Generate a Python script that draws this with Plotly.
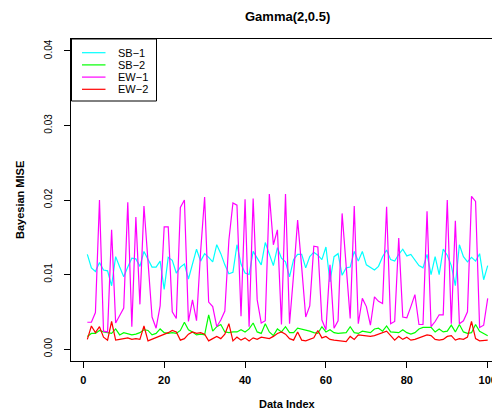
import plotly.graph_objects as go

idx = list(range(1, 101))

sb1 = [0.0127, 0.0109, 0.0104, 0.0116, 0.0106, 0.0105, 0.0085, 0.0124, 0.0110, 0.0097,
       0.0110, 0.0122, 0.0121, 0.0111, 0.0131, 0.0120, 0.0110, 0.0110, 0.0118, 0.0080,
       0.0123, 0.0119, 0.0102, 0.0110, 0.0114, 0.0094, 0.0114, 0.0134, 0.0118, 0.0128,
       0.0123, 0.0117, 0.0140, 0.0128, 0.0113, 0.0101, 0.0103, 0.0140, 0.0114, 0.0102,
       0.0100, 0.0131, 0.0122, 0.0113, 0.0143, 0.0126, 0.0112, 0.0136, 0.0122, 0.0117,
       0.0097, 0.0120, 0.0127, 0.0127, 0.0109, 0.0124, 0.0130, 0.0126, 0.0120, 0.0137,
       0.0090, 0.0124, 0.0128, 0.0099, 0.0109, 0.0110, 0.0131, 0.0118, 0.0131, 0.0113,
       0.0110, 0.0106, 0.0111, 0.0124, 0.0133, 0.0120, 0.0118, 0.0127, 0.0134, 0.0125,
       0.0127, 0.0120, 0.0112, 0.0109, 0.0127, 0.0100, 0.0124, 0.0100, 0.0134, 0.0126,
       0.0112, 0.0085, 0.0140, 0.0124, 0.0117, 0.0123, 0.0118, 0.0128, 0.0093, 0.0112]

sb2 = [0.0017, 0.0021, 0.0021, 0.0025, 0.0023, 0.0022, 0.0021, 0.0027, 0.0019, 0.0022,
       0.0021, 0.0019, 0.0020, 0.0022, 0.0026, 0.0025, 0.0019, 0.0021, 0.0027, 0.0022,
       0.0021, 0.0022, 0.0021, 0.0025, 0.0036, 0.0026, 0.0023, 0.0019, 0.0020, 0.0019,
       0.0046, 0.0024, 0.0030, 0.0033, 0.0023, 0.0022, 0.0023, 0.0023, 0.0026, 0.0023,
       0.0027, 0.0035, 0.0023, 0.0021, 0.0034, 0.0023, 0.0018, 0.0027, 0.0023, 0.0030,
       0.0022, 0.0022, 0.0028, 0.0027, 0.0025, 0.0024, 0.0022, 0.0021, 0.0030, 0.0023,
       0.0026, 0.0022, 0.0021, 0.0022, 0.0022, 0.0030, 0.0022, 0.0021, 0.0024, 0.0023,
       0.0022, 0.0027, 0.0028, 0.0024, 0.0031, 0.0023, 0.0022, 0.0022, 0.0026, 0.0022,
       0.0020, 0.0022, 0.0027, 0.0029, 0.0029, 0.0029, 0.0023, 0.0027, 0.0023, 0.0024,
       0.0032, 0.0023, 0.0033, 0.0023, 0.0021, 0.0022, 0.0033, 0.0024, 0.0021, 0.0018]

ew1 = [0.0036, 0.0036, 0.0049, 0.0200, 0.0024, 0.0023, 0.0160, 0.0035, 0.0045, 0.0055,
       0.0197, 0.0030, 0.0177, 0.0060, 0.0192, 0.0115, 0.0043, 0.0028, 0.0058, 0.0164,
       0.0164, 0.0050, 0.0041, 0.0190, 0.0200, 0.0037, 0.0066, 0.0038, 0.0130, 0.0204,
       0.0063, 0.0057, 0.0030, 0.0039, 0.0051, 0.0146, 0.0196, 0.0193, 0.0044, 0.0201,
       0.0030, 0.0202, 0.0066, 0.0035, 0.0038, 0.0208, 0.0140, 0.0160, 0.0033, 0.0208,
       0.0034, 0.0100, 0.0173, 0.0110, 0.0043, 0.0058, 0.0138, 0.0137, 0.0039, 0.0026,
       0.0113, 0.0028, 0.0038, 0.0182, 0.0115, 0.0041, 0.0192, 0.0034, 0.0068, 0.0057,
       0.0032, 0.0070, 0.0064, 0.0061, 0.0191, 0.0034, 0.0037, 0.0149, 0.0043, 0.0042,
       0.0057, 0.0073, 0.0033, 0.0033, 0.0185, 0.0030, 0.0037, 0.0046, 0.0046, 0.0200,
       0.0034, 0.0172, 0.0034, 0.0038, 0.0050, 0.0205, 0.0198, 0.0029, 0.0032, 0.0068]

ew2 = [0.0013, 0.0031, 0.0022, 0.0030, 0.0016, 0.0012, 0.0037, 0.0012, 0.0013, 0.0014,
       0.0015, 0.0013, 0.0014, 0.0013, 0.0031, 0.0011, 0.0013, 0.0015, 0.0017, 0.0019,
       0.0022, 0.0025, 0.0023, 0.0012, 0.0014, 0.0020, 0.0023, 0.0021, 0.0022, 0.0020,
       0.0011, 0.0014, 0.0017, 0.0014, 0.0020, 0.0034, 0.0011, 0.0016, 0.0012, 0.0015,
       0.0011, 0.0015, 0.0013, 0.0016, 0.0015, 0.0014, 0.0017, 0.0021, 0.0023, 0.0020,
       0.0014, 0.0012, 0.0023, 0.0012, 0.0011, 0.0013, 0.0015, 0.0025, 0.0015, 0.0017,
       0.0013, 0.0012, 0.0011, 0.0010, 0.0010, 0.0017, 0.0013, 0.0019, 0.0018, 0.0018,
       0.0017, 0.0018, 0.0020, 0.0023, 0.0024, 0.0018, 0.0012, 0.0017, 0.0013, 0.0016,
       0.0012, 0.0013, 0.0015, 0.0018, 0.0019, 0.0018, 0.0013, 0.0012, 0.0013, 0.0017,
       0.0018, 0.0012, 0.0014, 0.0013, 0.0016, 0.0037, 0.0014, 0.0011, 0.0012, 0.0012]

series_names = ["SB\u22121", "SB\u22122", "EW\u22121", "EW\u22122"]
series_colors = ["#00FFFF", "#00FF00", "#FF00FF", "#FF0000"]
series_values = [sb1, sb2, ew1, ew2]

x_ticks = [0, 20, 40, 60, 80, 100]
y_ticks = [0.00, 0.01, 0.02, 0.03, 0.04]
y_tick_labels = ["0.00", "0.01", "0.02", "0.03", "0.04"]

# the page body has an 8px margin: the figure is drawn 8px in from the window corner
OFF = 8
W, H = 500 - OFF, 415 - OFF
ML, MR, MT, MB = 63, 0, 31, 54
pw, ph = W - ML - MR, H - MT - MB
X0_PX, X_PER = 83.3 - OFF, 4.044  # pixel of index 0 (figure coords), px per unit


def px(xp):
    """window x pixel -> paper x"""
    return (xp - OFF - ML) / pw


def py(yp):
    """window y pixel -> paper y"""
    return (H - MB - (yp - OFF)) / ph


fig = go.Figure()
for name, col, vals in zip(series_names, series_colors, series_values):
    fig.add_trace(go.Scatter(x=idx, y=vals, mode="lines", name=name,
                             line=dict(color=col, width=1.2), showlegend=False))

FONT = "Liberation Sans, Arial, Helvetica, sans-serif"

shapes = []
annotations = []
# legend box
shapes.append(dict(type="rect", xref="paper", yref="paper",
                   x0=px(71.5), x1=px(156.5), y0=py(101), y1=py(39),
                   line=dict(color="black", width=1), fillcolor="white", layer="above"))
rows = [52.7, 64.9, 77.1, 89.3]
for name, col, yy in zip(series_names, series_colors, rows):
    shapes.append(dict(type="line", xref="paper", yref="paper",
                       x0=px(82), x1=px(105.5), y0=py(yy), y1=py(yy),
                       line=dict(color=col, width=1.2), layer="above"))
    annotations.append(dict(text=name, xref="paper", yref="paper", x=px(116), y=py(yy),
                            xanchor="left", yanchor="middle", showarrow=False,
                            font=dict(family=FONT, size=11, color="black")))

annotations.append(dict(text="<b>Gamma(2,0.5)</b>", xref="paper", yref="paper",
                        x=px(287), y=py(8), xanchor="center", yanchor="top",
                        showarrow=False, borderpad=0,
                        font=dict(family=FONT, size=13, color="black")))
annotations.append(dict(text="<b>Data Index</b>", xref="paper", yref="paper",
                        x=px(287), y=py(404), xanchor="center", yanchor="middle",
                        showarrow=False, font=dict(family=FONT, size=11, color="black")))
annotations.append(dict(text="<b>Bayesian MISE</b>", xref="paper", yref="paper",
                        x=px(20), y=py(200), xanchor="center", yanchor="middle",
                        textangle=-90, showarrow=False,
                        font=dict(family=FONT, size=11, color="black")))

fig.update_layout(
    width=W, height=H,
    margin=dict(l=ML, r=MR, t=MT, b=MB, autoexpand=False),
    paper_bgcolor="white", plot_bgcolor="white",
    shapes=shapes, annotations=annotations,
    showlegend=False,
    font=dict(family=FONT, color="black"),
)
x_lo = (ML - X0_PX) / X_PER
x_hi = (W - MR - X0_PX) / X_PER
fig.update_xaxes(range=[x_lo, x_hi], automargin=False,
                 tickvals=x_ticks, ticktext=[f"<b>{t}</b>" for t in x_ticks],
                 showline=True, linecolor="black", linewidth=1, mirror=True,
                 ticks="outside", ticklen=6, tickcolor="black", tickwidth=1,
                 showgrid=False, zeroline=False, ticklabelstandoff=3,
                 tickfont=dict(family=FONT, size=11, color="black"))
fig.update_yaxes(range=[-0.0016, 0.0416], automargin=False,
                 tickvals=y_ticks, ticktext=y_tick_labels,
                 showline=True, linecolor="black", linewidth=1, mirror=False,
                 ticks="outside", ticklen=6, tickcolor="black", tickwidth=1,
                 showgrid=False, zeroline=False, tickangle=-90, ticklabelstandoff=8,
                 tickfont=dict(family=FONT, size=10, color="black"))

fig.write_html("out.html")
